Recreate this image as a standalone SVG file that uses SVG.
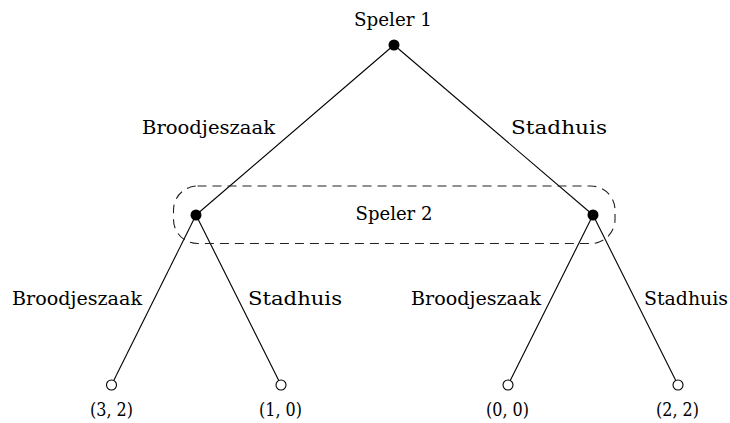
<svg xmlns="http://www.w3.org/2000/svg" width="730" height="423" viewBox="0 0 730 423">
<style>
text{font-family:"DejaVu Serif","Liberation Serif",serif;font-size:18.5px;fill:#000;text-anchor:middle}
.e{stroke:#000;stroke-width:1.1;fill:none}
.dec{fill:#000}
.leaf{fill:#fff;stroke:#000;stroke-width:1.1}
.info{fill:none;stroke:#222;stroke-width:1.1;stroke-dasharray:9 6}
</style>
<rect width="730" height="423" fill="#fff"/>
<g id="connectors">
<line class="e" x1="394" y1="45" x2="196" y2="215"/>
<line class="e" x1="394" y1="45" x2="593" y2="215"/>
<line class="e" x1="196" y1="215" x2="111.5" y2="385"/>
<line class="e" x1="196" y1="215" x2="281" y2="385"/>
<line class="e" x1="593" y1="215" x2="508" y2="385"/>
<line class="e" x1="593" y1="215" x2="678" y2="385"/>
<text x="208.5" y="134" textLength="133" lengthAdjust="spacingAndGlyphs">Broodjeszaak</text>
<text x="559" y="134" textLength="96" lengthAdjust="spacingAndGlyphs">Stadhuis</text>
<text x="77" y="305" textLength="130" lengthAdjust="spacingAndGlyphs">Broodjeszaak</text>
<text x="295" y="305" textLength="94" lengthAdjust="spacingAndGlyphs">Stadhuis</text>
<text x="476" y="305" textLength="130" lengthAdjust="spacingAndGlyphs">Broodjeszaak</text>
<text x="686" y="305" textLength="84" lengthAdjust="spacingAndGlyphs">Stadhuis</text>
</g>
<g id="infoset">
<rect class="info" x="173.5" y="186" width="441.5" height="57.5" rx="24" ry="24"/>
<text x="394" y="220" textLength="77" lengthAdjust="spacingAndGlyphs">Speler 2</text>
</g>
<g id="root">
<circle class="dec" cx="394" cy="45" r="5.5"/>
<text x="393" y="26" textLength="78" lengthAdjust="spacingAndGlyphs">Speler 1</text>
</g>
<g id="p2left"><circle class="dec" cx="196" cy="215" r="5.5"/></g>
<g id="p2right"><circle class="dec" cx="593" cy="215" r="5.5"/></g>
<g id="leaf1"><circle class="leaf" cx="111.5" cy="385" r="5"/><text x="111.5" y="416" textLength="43" lengthAdjust="spacingAndGlyphs">(3, 2)</text></g>
<g id="leaf2"><circle class="leaf" cx="281" cy="385" r="5"/><text x="280.5" y="416" textLength="43" lengthAdjust="spacingAndGlyphs">(1, 0)</text></g>
<g id="leaf3"><circle class="leaf" cx="508" cy="385" r="5"/><text x="507.5" y="416" textLength="43" lengthAdjust="spacingAndGlyphs">(0, 0)</text></g>
<g id="leaf4"><circle class="leaf" cx="678" cy="385" r="5"/><text x="677.5" y="416" textLength="43" lengthAdjust="spacingAndGlyphs">(2, 2)</text></g>
</svg>
